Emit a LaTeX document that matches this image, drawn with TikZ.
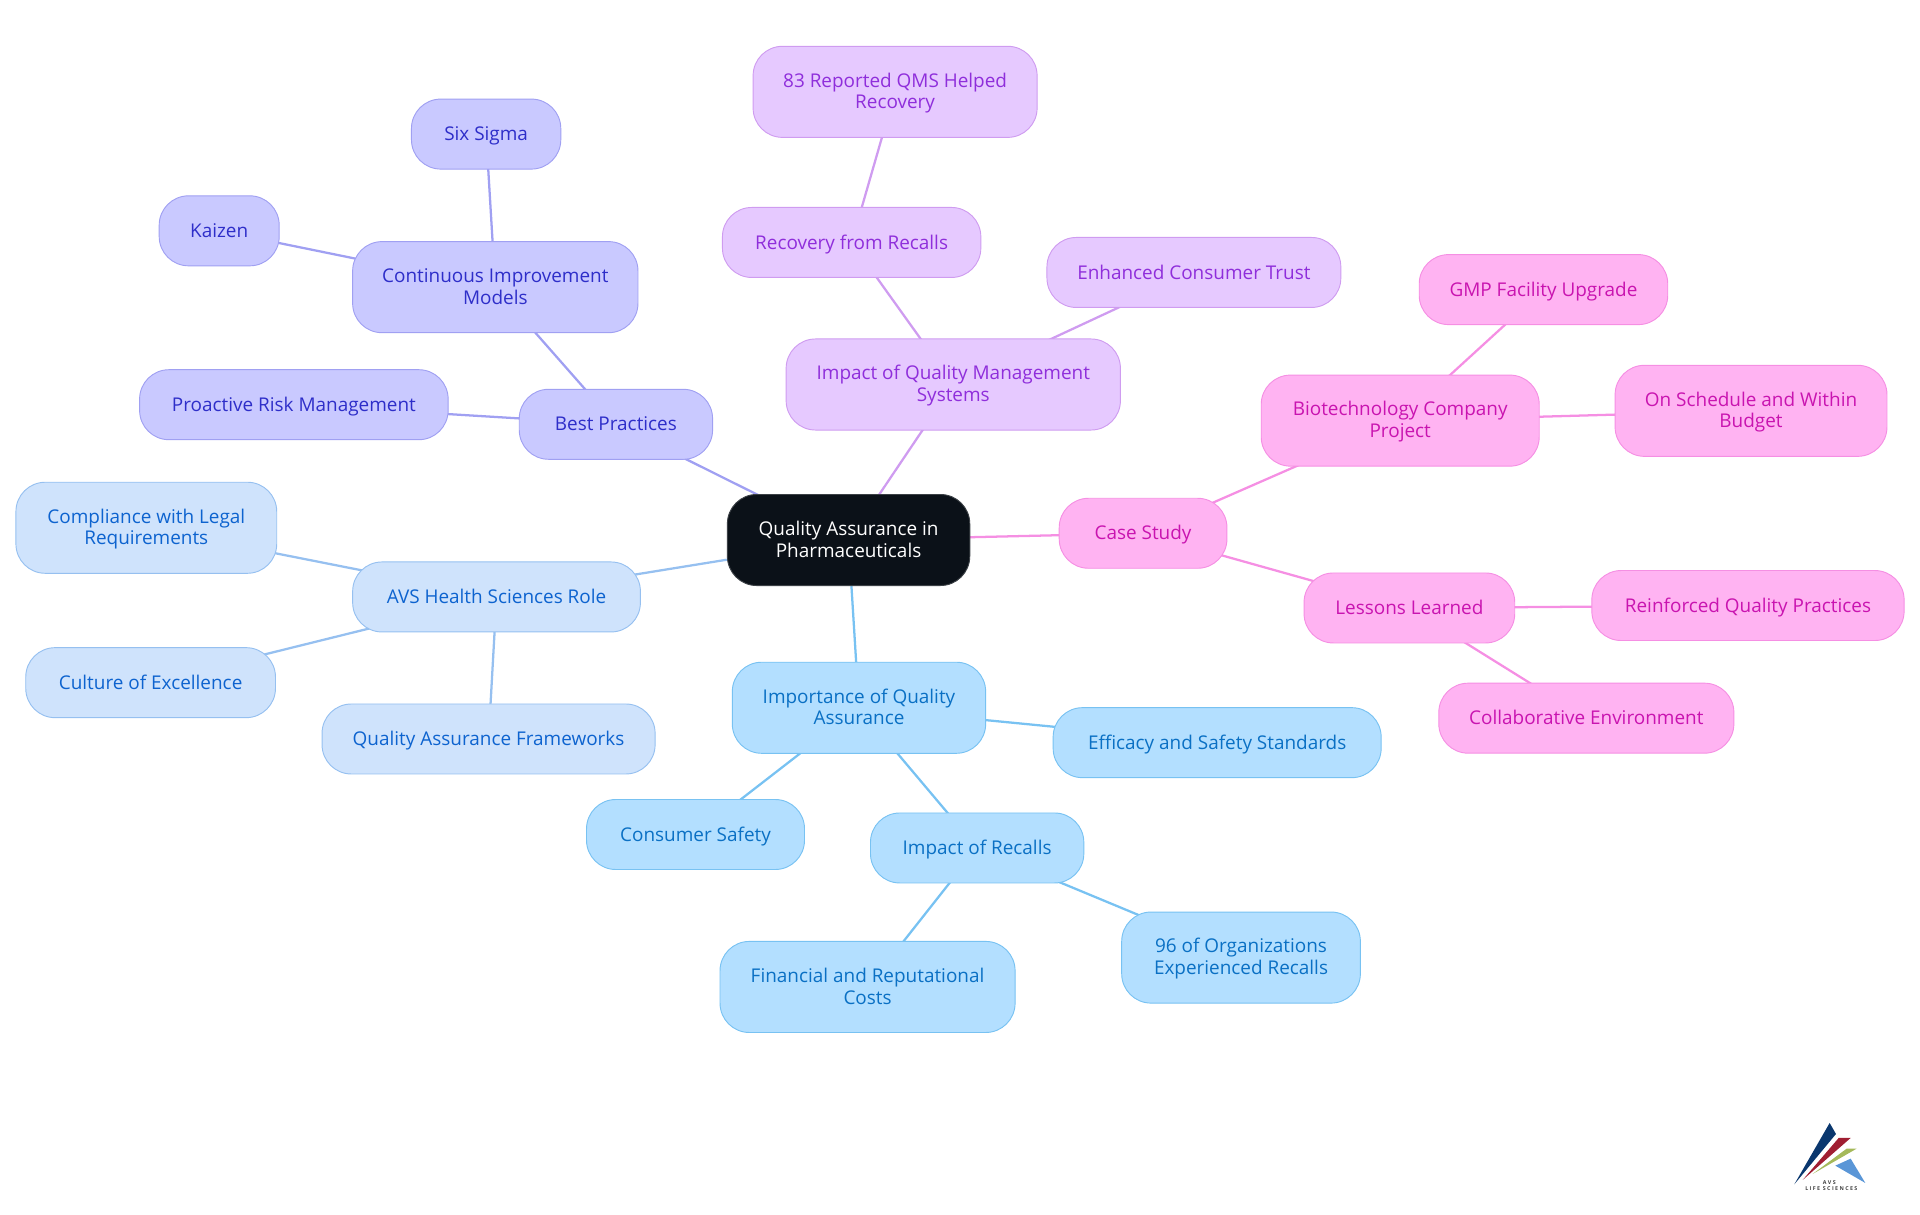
\documentclass[tikz,border=0pt]{standalone}
\usepackage{fontspec}
\setmainfont{Open Sans}
\usetikzlibrary{backgrounds}
\definecolor{bluF}{HTML}{B3DFFF}\definecolor{bluD}{HTML}{78C2F2}\definecolor{bluT}{HTML}{0A70C4}
\definecolor{skyF}{HTML}{CFE3FC}\definecolor{skyD}{HTML}{96C0F0}\definecolor{skyT}{HTML}{0D63CF}
\definecolor{indF}{HTML}{C9C9FF}\definecolor{indD}{HTML}{A0A0F2}\definecolor{indT}{HTML}{2E2EC9}
\definecolor{purF}{HTML}{E6C9FF}\definecolor{purD}{HTML}{CF9CF0}\definecolor{purT}{HTML}{8F2EDB}
\definecolor{pnkF}{HTML}{FFB3F2}\definecolor{pnkD}{HTML}{F58FE3}\definecolor{pnkT}{HTML}{C914B0}
\definecolor{rootF}{HTML}{0B1118}
\definecolor{logoA}{HTML}{0A376E}\definecolor{logoB}{HTML}{A01E32}\definecolor{logoC}{HTML}{A5B95A}\definecolor{logoD}{HTML}{5A96D7}
\newcommand{\lowstrut}{\vrule width 0pt height 14.65pt depth 4.65pt\relax}
\newcommand{\twolines}[2]{\raisebox{-5pt}[10pt][10pt]{\renewcommand{\arraystretch}{1.05}\begin{tabular}{@{}c@{}}#1\\#2\end{tabular}}}
\tikzset{
  mm/.style={rounded corners=22pt,align=center,inner sep=0pt,line width=.7pt,
    font=\fontsize{14.2}{15.5}\selectfont},
  bluN/.style={mm,fill=bluF,draw=bluD,text=bluT},
  skyN/.style={mm,fill=skyF,draw=skyD,text=skyT},
  indN/.style={mm,fill=indF,draw=indD,text=indT},
  purN/.style={mm,fill=purF,draw=purD,text=purT},
  pnkN/.style={mm,fill=pnkF,draw=pnkD,text=pnkT},
  rootN/.style={mm,fill=rootF,draw=rootF!80!white,text=white},
  tall/.style={minimum height=68.3pt},
  short/.style={minimum height=52.5pt,execute at begin node=\lowstrut,execute at end node=\lowstrut},
  bluL/.style={line width=1.7pt,draw=bluD},
  skyL/.style={line width=1.7pt,draw=skyD},
  indL/.style={line width=1.7pt,draw=indD},
  purL/.style={line width=1.7pt,draw=purD},
  pnkL/.style={line width=1.7pt,draw=pnkD},
  logotxt/.style={font=\fontsize{4}{5}\bfseries\selectfont,text=black!75,inner sep=0pt,align=center},
}
\begin{document}
\begin{tikzpicture}[x=0.91837pt,y=-0.91837pt]
\useasboundingbox (0,0) rectangle (1567.99,992.2);
\node[rootN,tall,minimum width=181.8pt] (root) at (693,441) {\twolines{Quality Assurance in}{Pharmaceuticals}};
% blue
\node[bluN,tall,minimum width=190pt] (imp) at (701.5,578) {\twolines{Importance of Quality}{Assurance}};
\node[bluN,short,minimum width=246pt] (eff) at (994,606.5) {Efficacy and Safety Standards};
\node[bluN,short,minimum width=163.5pt] (con) at (568,681.5) {Consumer Safety};
\node[bluN,short,minimum width=160pt] (rec) at (798,692.5) {Impact of Recalls};
\node[bluN,tall,minimum width=221.3pt] (fin) at (708.5,806) {\twolines{Financial and Reputational}{Costs}};
\node[bluN,tall,minimum width=179pt] (org) at (1013.5,782) {\twolines{96 of Organizations}{Experienced Recalls}};
% sky
\node[skyN,short,minimum width=215.8pt] (avs) at (405.5,487.5) {AVS Health Sciences Role};
\node[skyN,tall,minimum width=195.6pt] (comp) at (119.5,431) {\twolines{Compliance with Legal}{Requirements}};
\node[skyN,short,minimum width=187.3pt] (cul) at (123,557.5) {Culture of Excellence};
\node[skyN,short,minimum width=249.8pt] (qaf) at (399,603.5) {Quality Assurance Frameworks};
% indigo
\node[indN,short,minimum width=145pt] (best) at (503,346.5) {Best Practices};
\node[indN,short,minimum width=231.4pt] (pro) at (240,330.5) {Proactive Risk Management};
\node[indN,tall,minimum width=214pt] (cim) at (404.5,234.5) {\twolines{Continuous Improvement}{Models}};
\node[indN,short,minimum width=112pt] (six) at (397,109.5) {Six Sigma};
\node[indN,short,minimum width=90pt] (kai) at (179,188.5) {Kaizen};
% purple
\node[purN,tall,minimum width=250.7pt] (iqm) at (778.5,314) {\twolines{Impact of Quality Management}{Systems}};
\node[purN,short,minimum width=193.8pt] (rcv) at (695.5,198) {Recovery from Recalls};
\node[purN,tall,minimum width=213pt] (qms) at (731,75) {\twolines{83 Reported QMS Helped}{Recovery}};
\node[purN,short,minimum width=220.4pt] (enh) at (975,222.5) {Enhanced Consumer Trust};
% pink
\node[pnkN,short,minimum width=125.8pt] (cas) at (933.5,435.5) {Case Study};
\node[pnkN,tall,minimum width=208.5pt] (bio) at (1143.5,343.5) {\twolines{Biotechnology Company}{Project}};
\node[pnkN,short,minimum width=186.4pt] (gmp) at (1260.5,236.5) {GMP Facility Upgrade};
\node[pnkN,tall,minimum width=203.9pt] (sch) at (1430,335.5) {\twolines{On Schedule and Within}{Budget}};
\node[pnkN,short,minimum width=158pt] (les) at (1151,496.5) {Lessons Learned};
\node[pnkN,short,minimum width=234.2pt] (rei) at (1427.5,494.5) {Reinforced Quality Practices};
\node[pnkN,short,minimum width=221.3pt] (col) at (1295.5,586.5) {Collaborative Environment};
\begin{scope}[on background layer]
\draw[bluL] (root.center)--(imp.center) (imp.center)--(eff.center) (imp.center)--(con.center) (imp.center)--(rec.center) (rec.center)--(fin.center) (rec.center)--(org.center);
\draw[skyL] (root.center)--(avs.center) (avs.center)--(comp.center) (avs.center)--(cul.center) (avs.center)--(qaf.center);
\draw[indL] (root.center)--(best.center) (best.center)--(pro.center) (best.center)--(cim.center) (cim.center)--(six.center) (cim.center)--(kai.center);
\draw[purL] (root.center)--(iqm.center) (iqm.center)--(rcv.center) (rcv.center)--(qms.center) (iqm.center)--(enh.center);
\draw[pnkL] (root.center)--(cas.center) (cas.center)--(bio.center) (bio.center)--(gmp.center) (bio.center)--(sch.center) (cas.center)--(les.center) (les.center)--(rei.center) (les.center)--(col.center);
\end{scope}
% logo
\begin{scope}[shift={(1437.3,898.3)},x=0.25pt,y=-0.25pt]
\fill[logoA] (209,69)--(228,102)--(103,253)--cycle;
\fill[logoB] (236,114)--(272,114)--(128,240)--cycle;
\fill[logoC] (260,146)--(290,146)--(158,222)--cycle;
\fill[logoD] (272,176)--(316,249)--(226,197)--cycle;
\node[logotxt] (logoa) at (208,247) {A V S};
\node[logotxt] (logob) at (214,267) {L I F E\ \ S C I E N C E S};
\end{scope}
\end{tikzpicture}
\end{document}
